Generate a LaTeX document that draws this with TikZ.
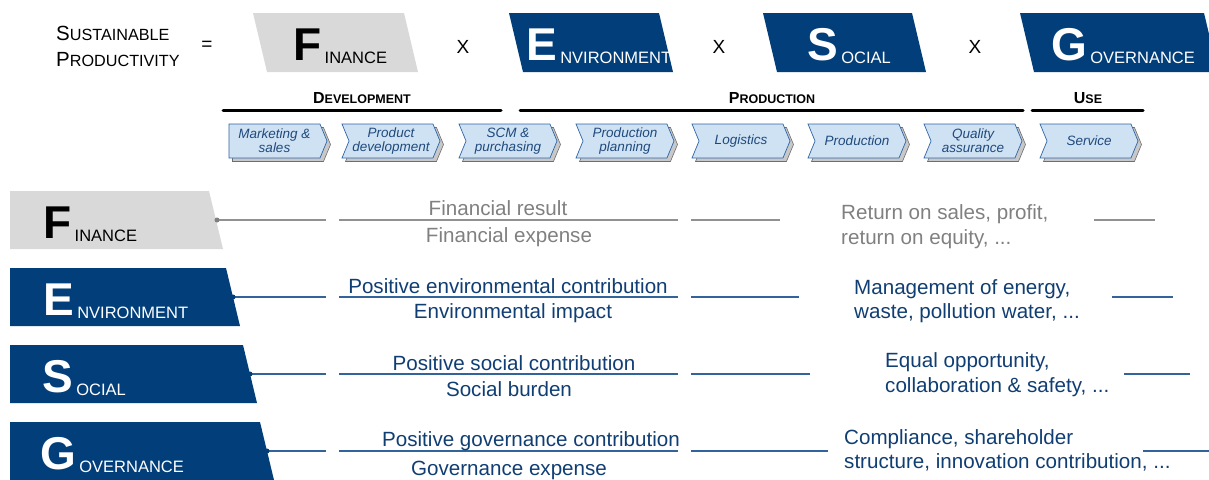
\documentclass[tikz,border=0pt]{standalone}
\usepackage{fontspec}
\setmainfont{Liberation Sans}
\usetikzlibrary{shapes.symbols,shadows}
\definecolor{esgblue}{RGB}{2,63,122}
\definecolor{boxgray}{RGB}{217,217,217}
\definecolor{chevfill}{RGB}{207,226,243}
\definecolor{chevdraw}{RGB}{46,100,165}
\definecolor{chevtext}{RGB}{31,73,125}
\definecolor{shadfill}{RGB}{200,200,200}
\definecolor{shaddraw}{RGB}{110,110,110}
\definecolor{rowtext}{RGB}{16,62,115}
\definecolor{rowline}{RGB}{50,100,155}
\definecolor{graytext}{RGB}{128,128,128}
\definecolor{grayline}{RGB}{145,145,145}
\begin{document}
\begin{tikzpicture}[x=1pt,y=-1pt,
  bigletter/.style={anchor=base west, inner sep=0pt, font=\fontsize{46}{46}\selectfont\bfseries},
  smallword/.style={anchor=base west, inner sep=0pt, yshift=-3pt, font=\fontsize{16.5}{16.5}\selectfont},
  chev/.style={signal, signal to=east, signal from=west, signal pointer angle=135,
    minimum width=98pt, minimum height=34pt, inner sep=0pt, fill=chevfill, draw=chevdraw,
    line width=0.7pt, text=chevtext, font=\fontsize{13.5}{14}\selectfont\itshape, align=center,
    copy shadow={shadow xshift=3.5pt, shadow yshift=-3.5pt, fill=shadfill, draw=shaddraw, line width=0.6pt}},
  firstchev/.style={chev, signal from=nowhere},
  phaseline/.style={line width=3pt, line cap=round, black},
  rowtxt/.style={anchor=base, inner sep=0pt, font=\fontsize{20.6}{20.6}\selectfont},
  righttxt/.style={anchor=base west, inner sep=0pt, font=\fontsize{20.6}{20.6}\selectfont},
  grayrow/.style={grayline, line width=1.1pt},
  bluerow/.style={rowline, line width=1.1pt},
  op/.style={anchor=base, inner sep=0pt, font=\fontsize{19}{19}\selectfont}
]
\useasboundingbox (0,0) rectangle (1209,479);
\begin{scope}
\clip (0,0) rectangle (1209,479);

% ---------- Top equation ----------
\node[anchor=base west, inner sep=0pt] (sus) at (56,40) {{\fontsize{20.5}{20.5}\selectfont S}{\fontsize{16.2}{16.2}\selectfont USTAINABLE}};
\node[anchor=base west, inner sep=0pt] (prod) at (56,66) {{\fontsize{20.5}{20.5}\selectfont P}{\fontsize{16.2}{16.2}\selectfont RODUCTIVITY}};
\node[op] (eq) at (207,50) {=};

\fill[boxgray] (253,13) -- (404,13) -- (418,72) -- (267,72) -- cycle;
\node[bigletter, text=black] (tF) at (293,60) {F};
\node[smallword, text=black] (tFw) at ([xshift=3pt]tF.base east) {INANCE};
\node[op] (x1) at (463,53) {X};

\fill[esgblue] (509,13) -- (659,13) -- (673,72) -- (523,72) -- cycle;
\node[bigletter, text=white] (tE) at (526,60) {E};
\node[smallword, text=white] (tEw) at ([xshift=3pt]tE.base east) {NVIRONMENT};
\node[op] (x2) at (719,53) {X};

\fill[esgblue] (763,13) -- (912,13) -- (926,72) -- (777,72) -- cycle;
\node[bigletter, text=white] (tS) at (807,60) {S};
\node[smallword, text=white] (tSw) at ([xshift=3pt]tS.base east) {OCIAL};
\node[op] (x3) at (975,53) {X};

\fill[esgblue] (1020,13) -- (1204,13) -- (1218,72) -- (1034,72) -- cycle;
\node[bigletter, text=white] (tG) at (1051,60) {G};
\node[smallword, text=white] (tGw) at ([xshift=3pt]tG.base east) {OVERNANCE};

% ---------- Phases ----------
\node[anchor=base, inner sep=0pt, font=\bfseries] (dev) at (362,103) {{\fontsize{16}{16}\selectfont D}{\fontsize{12.5}{12.5}\selectfont EVELOPMENT}};
\node[anchor=base, inner sep=0pt, font=\bfseries] (pro) at (772,103) {{\fontsize{16}{16}\selectfont P}{\fontsize{12.5}{12.5}\selectfont RODUCTION}};
\node[anchor=base, inner sep=0pt, font=\bfseries] (use) at (1088,103) {{\fontsize{16}{16}\selectfont U}{\fontsize{12.5}{12.5}\selectfont SE}};
\coordinate (devA) at (223,110); \coordinate (devB) at (501,110);
\coordinate (proA) at (520,110); \coordinate (proB) at (1023,110);
\coordinate (useA) at (1032,110); \coordinate (useB) at (1143,110);
\draw[phaseline] (devA) -- (devB);
\draw[phaseline] (proA) -- (proB);
\draw[phaseline] (useA) -- (useB);

% ---------- Process chain ----------
\node[firstchev] (c1) at (274.5,141) {Marketing \&\\sales};
\node[chev] (c2) at (391,141) {Product\\development};
\node[chev] (c3) at (508,141) {SCM \&\\purchasing};
\node[chev] (c4) at (625,141) {Production\\planning};
\node[chev] (c5) at (741,141) {Logistics};
\node[chev] (c6) at (857,141) {Production};
\node[chev] (c7) at (973,141) {Quality\\assurance};
\node[chev] (c8) at (1089,141) {Service};

% ---------- Row F ----------
\fill[boxgray] (10,191) -- (209,191) -- (223,249) -- (10,249) -- cycle;
\node[bigletter, text=black] (rF) at (43,238) {F};
\node[smallword, text=black] (rFw) at ([xshift=3pt]rF.base east) {INANCE};
\coordinate (dF) at (217,220);
\coordinate (fa) at (326,220); \coordinate (fb) at (339,220); \coordinate (fc) at (678,220);
\coordinate (fd) at (691,220); \coordinate (fe) at (780,220); \coordinate (ff) at (1094,220); \coordinate (fg) at (1155,220);
\draw[grayrow] (dF) -- (fa); \draw[grayrow] (fb) -- (fc); \draw[grayrow] (fd) -- (fe); \draw[grayrow] (ff) -- (fg);
\fill[graytext] (dF) circle (2.5pt);
\node[rowtxt, text=graytext] (f1) at (498,215) {Financial result};
\node[rowtxt, text=graytext] (f2) at (509,242) {Financial expense};
\node[righttxt, text=graytext] (f3) at (841,219) {Return on sales, profit,};
\node[righttxt, text=graytext] (f4) at (841,244) {return on equity, ...};

% ---------- Row E ----------
\fill[esgblue] (10,268) -- (226,268) -- (240,326) -- (10,326) -- cycle;
\node[bigletter, text=white] (rE) at (43,315) {E};
\node[smallword, text=white] (rEw) at ([xshift=3pt]rE.base east) {NVIRONMENT};
\coordinate (dE) at (233,297);
\coordinate (ea) at (326,297); \coordinate (eb) at (339,297); \coordinate (ec) at (678,297);
\coordinate (ed) at (691,297); \coordinate (ee) at (799,297); \coordinate (ef) at (1112,297); \coordinate (eg) at (1173,297);
\draw[bluerow] (dE) -- (ea); \draw[bluerow] (eb) -- (ec); \draw[bluerow] (ed) -- (ee); \draw[bluerow] (ef) -- (eg);
\fill[esgblue] (dE) circle (2.5pt);
\node[rowtxt, text=rowtext] (e1) at (508,293) {Positive environmental contribution};
\node[rowtxt, text=rowtext] (e2) at (513,318) {Environmental impact};
\node[righttxt, text=rowtext] (e3) at (854,294) {Management of energy,};
\node[righttxt, text=rowtext] (e4) at (854,318) {waste, pollution water, ...};

% ---------- Row S ----------
\fill[esgblue] (10,345) -- (243,345) -- (257,403) -- (10,403) -- cycle;
\node[bigletter, text=white] (rS) at (42,392) {S};
\node[smallword, text=white] (rSw) at ([xshift=3pt]rS.base east) {OCIAL};
\coordinate (dS) at (250,374);
\coordinate (sa) at (326,374); \coordinate (sb) at (339,374); \coordinate (sc) at (678,374);
\coordinate (sd) at (691,374); \coordinate (se) at (810,374); \coordinate (sf) at (1124,374); \coordinate (sg) at (1190,374);
\draw[bluerow] (dS) -- (sa); \draw[bluerow] (sb) -- (sc); \draw[bluerow] (sd) -- (se); \draw[bluerow] (sf) -- (sg);
\fill[esgblue] (dS) circle (2.5pt);
\node[rowtxt, text=rowtext] (s1) at (514,370) {Positive social contribution};
\node[rowtxt, text=rowtext] (s2) at (509,396) {Social burden};
\node[righttxt, text=rowtext] (s3) at (885,367) {Equal opportunity,};
\node[righttxt, text=rowtext] (s4) at (885,392) {collaboration \& safety, ...};

% ---------- Row G ----------
\fill[esgblue] (10,422) -- (260,422) -- (274,480) -- (10,480) -- cycle;
\node[bigletter, text=white] (rG) at (40,469) {G};
\node[smallword, text=white] (rGw) at ([xshift=3pt]rG.base east) {OVERNANCE};
\coordinate (dG) at (267,451);
\coordinate (ga) at (326,451); \coordinate (gb) at (339,451); \coordinate (gc) at (678,451);
\coordinate (gd) at (691,451); \coordinate (ge) at (828,451); \coordinate (gf) at (1143,451); \coordinate (gg) at (1209,451);
\draw[bluerow] (dG) -- (ga); \draw[bluerow] (gb) -- (gc); \draw[bluerow] (gd) -- (ge); \draw[bluerow] (gf) -- (gg);
\fill[esgblue] (dG) circle (2.5pt);
\node[rowtxt, text=rowtext] (g1) at (531,446) {Positive governance contribution};
\node[rowtxt, text=rowtext] (g2) at (509,475) {Governance expense};
\node[righttxt, text=rowtext] (g3) at (844,444) {Compliance, shareholder};
\node[righttxt, text=rowtext] (g4) at (844,468) {structure, innovation contribution, ...};
\end{scope}
\end{tikzpicture}
\end{document}
